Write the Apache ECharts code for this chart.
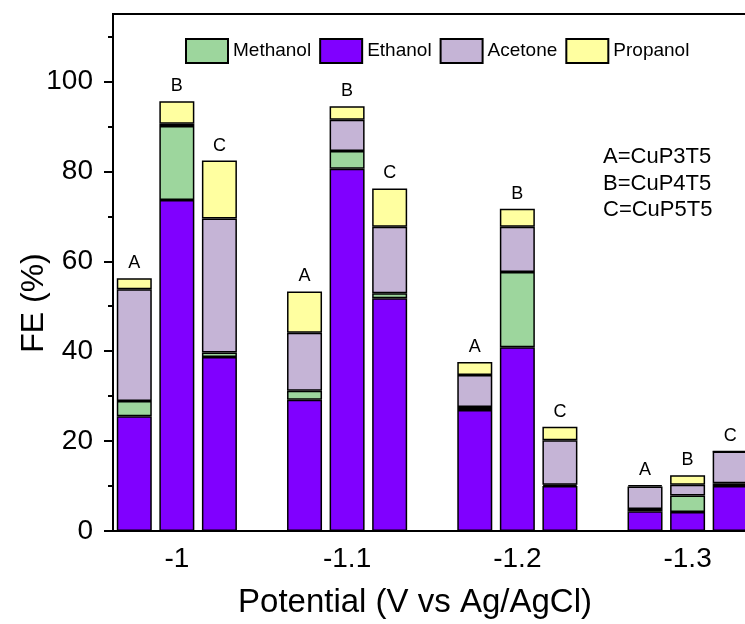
<!DOCTYPE html>
<html>
<head>
<meta charset="utf-8">
<script src="https://cdn.jsdelivr.net/npm/echarts@6/dist/echarts.min.js"></script>
<style>
  html, body { margin: 0; padding: 0; background: #fff; }
  #chart { width: 745px; height: 624px; }
</style>
</head>
<body>
<div id="chart"></div>
<script>
var potentials = ['-1', '-1.1', '-1.2', '-1.3'];
var samples = ['A', 'B', 'C'];
// FE (%) per bar, order: -1 A,B,C | -1.1 A,B,C | -1.2 A,B,C | -1.3 A,B,C
var ethanol  = [25.5, 73.6, 38.7, 29.2, 80.6, 51.8, 26.9, 40.9, 10.0, 4.4, 4.2, 10.0];
var methanol = [3.4, 16.5, 1.0, 2.0, 3.9, 1.1, 0.7, 16.7, 0.3, 0.5, 3.7, 0.6];
var acetone  = [24.9, 0.5, 29.8, 12.9, 7.0, 14.8, 7.1, 10.1, 9.9, 5.0, 2.4, 7.1];
var propanol = [2.4, 5.0, 12.9, 9.2, 3.0, 8.5, 2.9, 4.0, 3.0, 0.3, 2.1, 0];
var notes = ['A=CuP3T5', 'B=CuP4T5', 'C=CuP5T5'];
var yTicks = [0, 20, 40, 60, 80, 100];
var yMinorTicks = [10, 30, 50, 70, 90, 110];

var FONT = '"Liberation Sans", Arial, sans-serif';

// 4 slots per potential: A, B, C and an empty gap
var slots = [], xLabels = [];
potentials.forEach(function (p) {
    samples.forEach(function (s) {
        slots.push(s);
        xLabels.push(s === 'B' ? p : '');
    });
    slots.push('');
    xLabels.push('');
});
function toSlots(vals) {
    var out = [], k = 0;
    slots.forEach(function (s) { out.push(s ? vals[k++] : '-'); });
    return out;
}

function barSeries(name, vals, color, withLabel) {
    var s = {
        name: name,
        type: 'bar',
        stack: 'fe',
        barWidth: 35,
        data: toSlots(vals),
        itemStyle: { color: color, borderColor: '#000', borderWidth: 1.5 },
        emphasis: { disabled: true }
    };
    if (withLabel) {
        s.label = {
            show: true,
            position: 'top',
            distance: 6,
            color: '#000',
            fontSize: 18,
            fontFamily: FONT,
            formatter: function (p) { return slots[p.dataIndex]; }
        };
    }
    return s;
}

var chart = echarts.init(document.getElementById('chart'));
var option = {
    backgroundColor: '#fff',
    animation: false,
    textStyle: { fontFamily: FONT, color: '#000' },
    grid: {
        left: 113, top: 14, width: 681, bottom: 93,
        outerBoundsMode: 'none',
        containLabel: false,
        show: true, borderColor: '#000', borderWidth: 2,
        backgroundColor: 'transparent'
    },
    legend: {
        data: ['Methanol', 'Ethanol', 'Acetone', 'Propanol'],
        left: 180, top: 33,
        itemWidth: 42, itemHeight: 24, itemGap: 8,
        icon: 'rect',
        textStyle: { fontSize: 19, color: '#000', fontFamily: FONT }
    },
    xAxis: {
        type: 'category',
        data: xLabels,
        boundaryGap: true,
        axisLine: { lineStyle: { color: '#000', width: 2 } },
        axisTick: { show: false },
        axisLabel: { interval: 0, fontSize: 28, color: '#000', margin: 14, fontFamily: FONT },
        splitLine: { show: false }
    },
    yAxis: [{
        type: 'value',
        min: 0, max: 115,
        position: 'left',
        axisLine: { show: true, lineStyle: { color: '#000', width: 2 } },
        axisTick: { show: true, length: 9, customValues: yTicks, lineStyle: { color: '#000', width: 2 } },
        axisLabel: { customValues: yTicks, fontSize: 28, color: '#000', margin: 20, fontFamily: FONT },
        splitLine: { show: false }
    }, {
        type: 'value',
        min: 0, max: 115,
        position: 'left',
        axisLine: { show: false },
        axisTick: { show: true, length: 5, customValues: yMinorTicks, lineStyle: { color: '#000', width: 2 } },
        axisLabel: { show: false },
        splitLine: { show: false }
    }],
    graphic: [{
        type: 'text',
        x: 34, y: 303,
        rotation: Math.PI / 2,
        style: {
            text: 'FE (%)', font: '32px ' + FONT, fill: '#000',
            align: 'center', verticalAlign: 'middle',
            textAlign: 'center', textVerticalAlign: 'middle'
        }
    }, {
        type: 'text',
        x: 415, y: 603,
        style: {
            text: 'Potential (V vs Ag/AgCl)', font: '33px ' + FONT, fill: '#000',
            align: 'center', verticalAlign: 'middle',
            textAlign: 'center', textVerticalAlign: 'middle'
        }
    }].concat(notes.map(function (t, i) {
        return {
            type: 'text',
            x: 603, y: 157 + i * 26.5,
            style: {
                text: t, font: '22px ' + FONT, fill: '#000',
                align: 'left', verticalAlign: 'middle',
                textAlign: 'left', textVerticalAlign: 'middle'
            }
        };
    })),
    series: [
        barSeries('Ethanol', ethanol, '#8000FF'),
        barSeries('Methanol', methanol, '#9DD69D'),
        barSeries('Acetone', acetone, '#C5B4D6'),
        barSeries('Propanol', propanol, '#FFFFA0', true)
    ]
};
chart.setOption(option);
</script>
</body>
</html>
